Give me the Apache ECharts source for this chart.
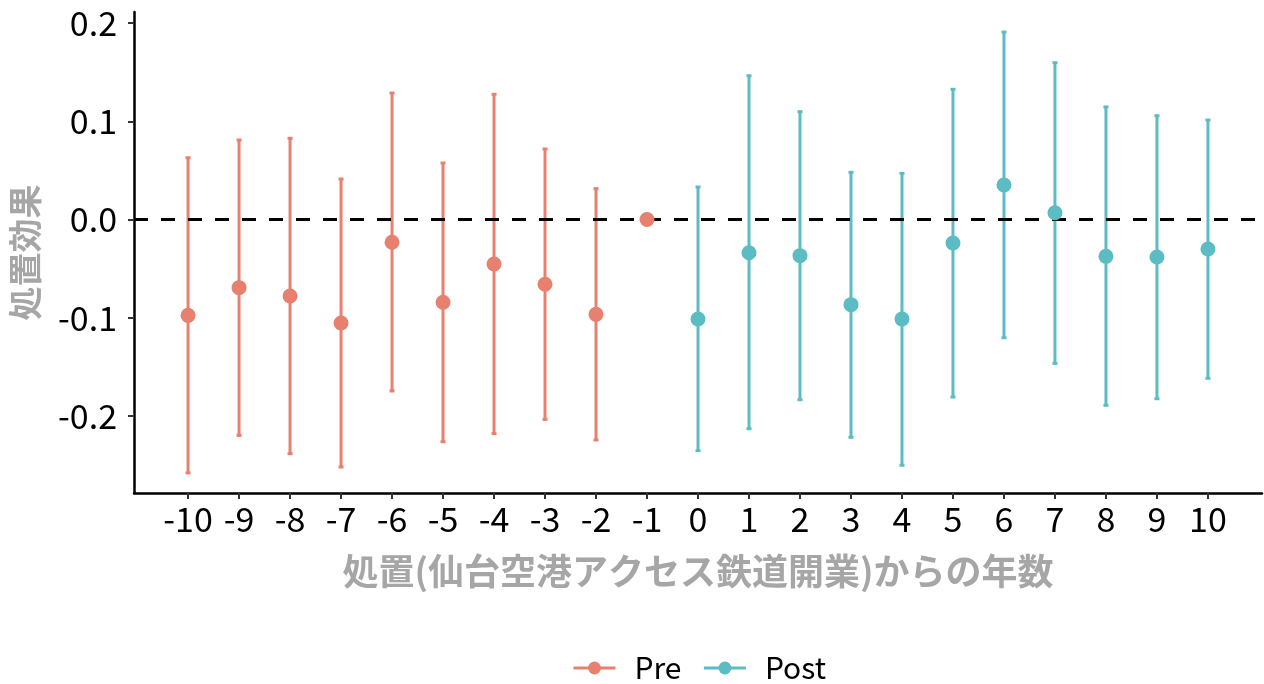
<!DOCTYPE html>
<html>
<head>
<meta charset="utf-8">
<script src="https://cdn.jsdelivr.net/npm/echarts@6/dist/echarts.min.js"></script>
<style>html,body{margin:0;padding:0;background:#fff}#c{width:1264px;height:684px}</style>
</head>
<body>
<div id="c"></div>
<script>
// Data
var preYears  = [-10, -9, -8, -7, -6, -5, -4, -3, -2, -1];
var preEst    = [-0.0976, -0.0694, -0.0779, -0.1054, -0.0232, -0.0843, -0.0453, -0.0660, -0.0966, 0.0];
var preLow    = [-0.2580, -0.2198, -0.2385, -0.2520, -0.1746, -0.2263, -0.2180, -0.2035, -0.2245, null];
var preHigh   = [0.0629, 0.0810, 0.0827, 0.0412, 0.1288, 0.0575, 0.1275, 0.0718, 0.0314, null];

var postYears = [0, 1, 2, 3, 4, 5, 6, 7, 8, 9, 10];
var postEst   = [-0.1013, -0.0338, -0.0368, -0.0867, -0.1013, -0.0239, 0.0351, 0.0069, -0.0375, -0.0382, -0.0300];
var postLow   = [-0.2354, -0.2130, -0.1835, -0.2218, -0.2503, -0.1808, -0.1204, -0.1465, -0.1892, -0.1825, -0.1617];
var postHigh  = [0.0331, 0.1464, 0.1098, 0.0480, 0.0470, 0.1326, 0.1909, 0.1597, 0.1146, 0.1057, 0.1013];

var xTicks = [-10,-9,-8,-7,-6,-5,-4,-3,-2,-1,0,1,2,3,4,5,6,7,8,9,10];
var yTicks = [-0.2, -0.1, 0.0, 0.1, 0.2];

var seriesNames = ['Pre', 'Post'];
var xAxisTitle = '処置(仙台空港アクセス鉄道開業)からの年数';
var yAxisTitle = '処置効果';

var colPre = '#E8806F', colPost = '#5BBDC3';
var font = '"Noto Sans CJK JP", "Noto Sans", sans-serif';

function pts(xs, ys) { return xs.map(function (x, i) { return [x, ys[i]]; }); }
function bars(xs, lo, hi) {
  var out = [];
  xs.forEach(function (x, i) { if (lo[i] != null && hi[i] != null) out.push([x, lo[i], hi[i]]); });
  return out;
}
function errItem(color) {
  return function (params, api) {
    var x = api.value(0);
    var a = api.coord([x, api.value(1)]);
    var b = api.coord([x, api.value(2)]);
    var cw = 2.5;
    return {
      type: 'group',
      children: [
        { type: 'line', shape: { x1: a[0], y1: a[1], x2: b[0], y2: b[1] }, style: { stroke: color, lineWidth: 3 } },
        { type: 'line', shape: { x1: a[0] - cw, y1: a[1], x2: a[0] + cw, y2: a[1] }, style: { stroke: color, lineWidth: 3 } },
        { type: 'line', shape: { x1: b[0] - cw, y1: b[1], x2: b[0] + cw, y2: b[1] }, style: { stroke: color, lineWidth: 3 } }
      ]
    };
  };
}

var chart = echarts.init(document.getElementById('c'), null, { renderer: 'canvas' });
chart.setOption({
  backgroundColor: '#ffffff',
  animation: false,
  grid: { left: 134, right: 2, top: 12, bottom: 191 },
  xAxis: {
    type: 'value', min: -11.06, max: 11.06,
    splitLine: { show: false },
    axisLine: { show: true, onZero: false, lineStyle: { color: '#000', width: 2.5 } },
    axisTick: { show: true, customValues: xTicks, length: 6, lineStyle: { color: '#333', width: 2 } },
    axisLabel: { customValues: xTicks, color: '#000', fontSize: 34, fontFamily: font, margin: 9 },
    name: xAxisTitle, nameLocation: 'middle', nameGap: 60,
    nameTextStyle: { color: '#A6A6A6', fontSize: 36, fontWeight: 'bold', fontFamily: font }
  },
  yAxis: {
    type: 'value', min: -0.2785, max: 0.2113,
    splitLine: { show: false },
    axisLine: { show: true, onZero: false, lineStyle: { color: '#000', width: 2.5 } },
    axisTick: { show: true, customValues: yTicks, length: 6, lineStyle: { color: '#333', width: 2 } },
    axisLabel: { customValues: yTicks, color: '#000', fontSize: 34, fontFamily: font, margin: 17,
      formatter: function (v) { return (Math.abs(v) < 1e-9 ? 0 : v).toFixed(1); } },
    name: yAxisTitle, nameLocation: 'middle', nameGap: 92,
    nameTextStyle: { color: '#A6A6A6', fontSize: 34, fontWeight: 'bold', fontFamily: font }
  },
  legend: {
    data: seriesNames, top: 648, left: 567,
    itemWidth: 42, itemHeight: 16, itemGap: 21,
    textStyle: { fontSize: 30, fontFamily: font, color: '#000', padding: [0, 0, 0, 14] },
    lineStyle: { width: 3, opacity: 1, type: 'solid' }
  },
  series: [
    { name: 'Pre', type: 'line', data: pts(preYears, preEst), symbol: 'circle', symbolSize: 15,
      itemStyle: { color: colPre }, lineStyle: { color: colPre, width: 0, opacity: 0 }, z: 5,
      markLine: { silent: true, symbol: 'none', label: { show: false },
        lineStyle: { color: '#000', width: 3, type: [14, 13] }, data: [{ yAxis: 0 }] } },
    { name: 'Post', type: 'line', data: pts(postYears, postEst), symbol: 'circle', symbolSize: 15,
      itemStyle: { color: colPost }, lineStyle: { color: colPost, width: 0, opacity: 0 }, z: 5 },
    { name: 'PreCI', type: 'custom', data: bars(preYears, preLow, preHigh), renderItem: errItem(colPre), z: 3 },
    { name: 'PostCI', type: 'custom', data: bars(postYears, postLow, postHigh), renderItem: errItem(colPost), z: 3 }
  ]
});
</script>
</body>
</html>
